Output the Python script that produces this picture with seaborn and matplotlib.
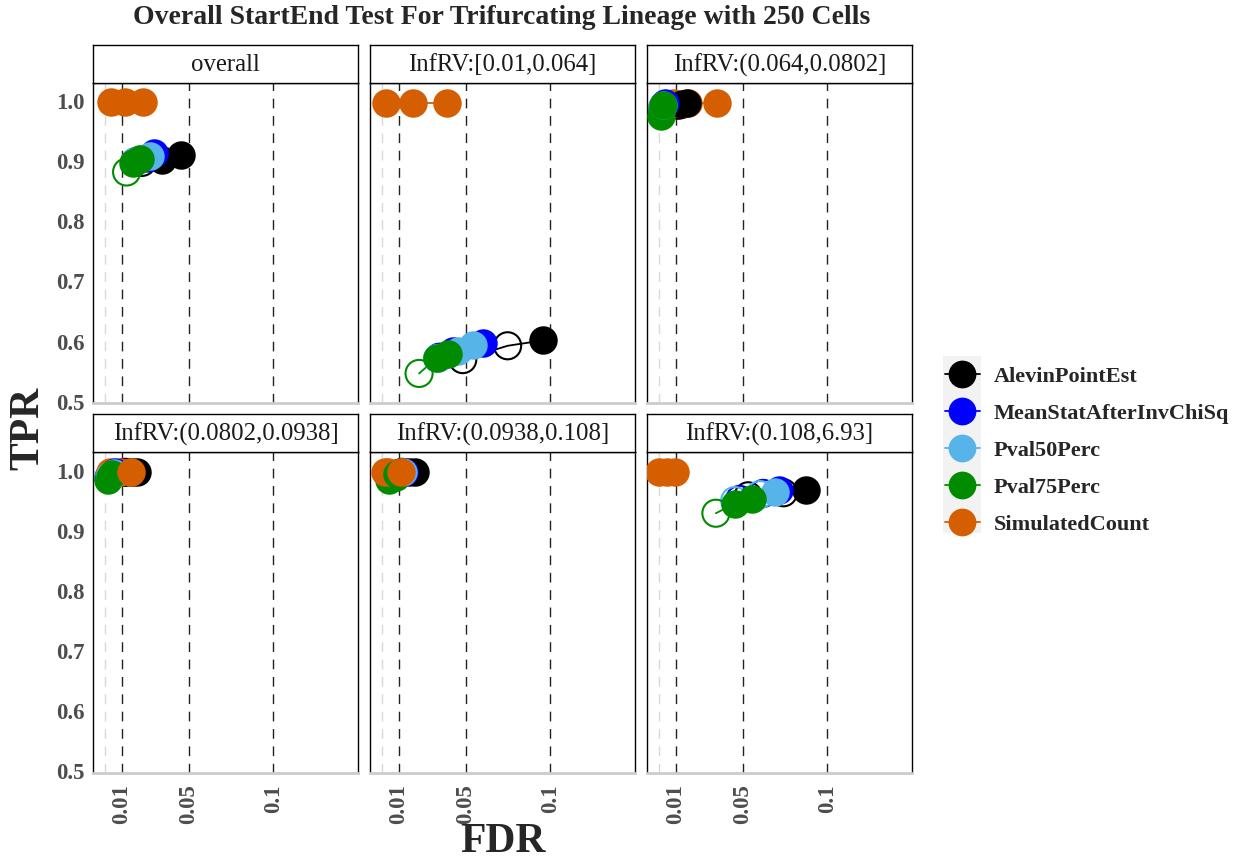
import numpy as np
import pandas as pd
import matplotlib
matplotlib.use("Agg")
import matplotlib.pyplot as plt
from matplotlib.lines import Line2D
from matplotlib.patches import Rectangle
import seaborn as sns

# ---- data -----------------------------------------------------------------
panels = ["overall", "InfRV:[0.01,0.064]", "InfRV:(0.064,0.0802]",
          "InfRV:(0.0802,0.0938]", "InfRV:(0.0938,0.108]", "InfRV:(0.108,6.93]"]
methods = ["AlevinPointEst", "MeanStatAfterInvChiSq", "Pval50Perc",
           "Pval75Perc", "SimulatedCount"]
method_colors = ["#000000", "#0000FF", "#56B4E9", "#008B00", "#D55E00"]
thresholds = [0.01, 0.05, 0.1]

# observed FDR / TPR at the three thresholds, one row per method
overall_fdr = [[0.022, 0.034, 0.045], [0.018, 0.025, 0.029], [0.0175, 0.021, 0.027],
               [0.0128, 0.0165, 0.021], [0.0033, 0.0116, 0.0227]]
overall_tpr = [[0.898, 0.902, 0.911], [0.899, 0.905, 0.913], [0.898, 0.903, 0.909],
               [0.882, 0.897, 0.904], [0.998, 0.998, 0.998]]

bin1_fdr = [[0.048, 0.0747, 0.096], [0.034, 0.042, 0.060], [0.033, 0.045, 0.054],
            [0.022, 0.0327, 0.039], [0.0024, 0.0185, 0.0389]]
bin1_tpr = [[0.570, 0.593, 0.602], [0.574, 0.585, 0.597], [0.572, 0.584, 0.594],
            [0.547, 0.573, 0.580], [0.997, 0.997, 0.997]]

bin2_fdr = [[0.0115, 0.0137, 0.0167], [0.002, 0.0028, 0.0035], [0.0015, 0.002, 0.0025],
            [0.001, 0.0018, 0.0025], [0.0085, 0.0173, 0.0345]]
bin2_tpr = [[0.993, 0.995, 0.996], [0.990, 0.995, 0.997], [0.985, 0.990, 0.993],
            [0.975, 0.987, 0.993], [0.997, 0.997, 0.997]]

bin3_fdr = [[0.012, 0.016, 0.019], [0.002, 0.004, 0.006], [0.002, 0.003, 0.005],
            [0.002, 0.003, 0.004], [0.003, 0.009, 0.0152]]
bin3_tpr = [[0.997, 0.998, 0.998], [0.990, 0.994, 0.997], [0.988, 0.993, 0.996],
            [0.984, 0.990, 0.995], [0.997, 0.997, 0.997]]

bin4_fdr = [[0.012, 0.016, 0.0196], [0.004, 0.009, 0.013], [0.004, 0.009, 0.0125],
            [0.004, 0.008, 0.009], [0.002, 0.0036, 0.0114]]
bin4_tpr = [[0.997, 0.998, 0.998], [0.992, 0.996, 0.997], [0.990, 0.995, 0.997],
            [0.984, 0.990, 0.995], [0.998, 0.998, 0.998]]

bin5_fdr = [[0.053, 0.074, 0.0875], [0.048, 0.062, 0.0714], [0.045, 0.060, 0.069],
            [0.0338, 0.045, 0.0553], [0.0, 0.005, 0.0093]]
bin5_tpr = [[0.958, 0.963, 0.968], [0.952, 0.962, 0.968], [0.950, 0.960, 0.965],
            [0.929, 0.945, 0.953], [0.998, 0.998, 0.998]]

fdr_tables = [overall_fdr, bin1_fdr, bin2_fdr, bin3_fdr, bin4_fdr, bin5_fdr]
tpr_tables = [overall_tpr, bin1_tpr, bin2_tpr, bin3_tpr, bin4_tpr, bin5_tpr]

rows = []
for p, ftab, ttab in zip(panels, fdr_tables, tpr_tables):
    for m, fr, tr in zip(methods, ftab, ttab):
        for th, f, t in zip(thresholds, fr, tr):
            rows.append(dict(panel=p, method=m, thr=th, FDR=f, TPR=t, satis=f <= th))
df = pd.DataFrame(rows)
palette = dict(zip(methods, method_colors))

# ---- style ----------------------------------------------------------------
sns.set_style("white")
plt.rcParams["font.family"] = ["Liberation Serif", "DejaVu Serif"]

W, H = 1239, 863
TICK_GREY = "#4D4D4D"
MS = 420
DASH = (0, (7, 5.5))


def draw_panel(data, **kws):
    ax = plt.gca()
    ax.axvline(0, color="#D9D9D9", ls=DASH, lw=1.0, zorder=0)
    for th in thresholds:
        ax.axvline(th, color="#222222", ls=DASH, lw=1.0, zorder=0)
    sns.lineplot(data=data, x="FDR", y="TPR", hue="method", hue_order=methods,
                 palette=palette, estimator=None, sort=False, legend=False,
                 lw=1.3, ax=ax, zorder=2)
    # points stacked threshold by threshold, methods in legend order
    for th in thresholds:
        for m in methods:
            pt = data[(data["method"] == m) & (data["thr"] == th)]
            if pt["satis"].all():
                sns.scatterplot(data=pt, x="FDR", y="TPR", color=palette[m],
                                edgecolor=palette[m], s=MS, linewidth=0,
                                legend=False, ax=ax, zorder=3)
            else:
                sns.scatterplot(data=pt, x="FDR", y="TPR", color=palette[m],
                                facecolor="none", edgecolor=palette[m],
                                s=MS - 40, linewidth=1.5, legend=False,
                                ax=ax, zorder=3)


g = sns.FacetGrid(df, col="panel", col_order=panels, col_wrap=3,
                  sharex=True, sharey=True, despine=False, height=3, aspect=0.85)
g.map_dataframe(draw_panel)
fig = g.figure
fig.set_size_inches(W / 100, H / 100)
fig.set_dpi(100)

g.set_titles("")
g.set_axis_labels("", "")
g.set(xlim=(-0.0072, 0.1505), ylim=(0.497, 1.03),
      xticks=[0, 0.01, 0.05, 0.1], yticks=[0.5, 0.6, 0.7, 0.8, 0.9, 1.0])

axes = g.axes.flatten()
for i, ax in enumerate(axes):
    for side in ["left", "right", "top"]:
        ax.spines[side].set_color("black")
        ax.spines[side].set_linewidth(1.0)
    ax.spines["bottom"].set_color("#CCCCCC")
    ax.spines["bottom"].set_linewidth(2.0)
    ax.tick_params(axis="y", length=4, color="#333333", width=1,
                   labelsize=16.5, labelcolor=TICK_GREY, pad=2)
    ax.set_yticklabels(["0.5", "0.6", "0.7", "0.8", "0.9", "1.0"],
                       fontweight="bold")
    if i < 3:
        ax.tick_params(axis="x", length=0, labelbottom=False)
    else:
        ax.tick_params(axis="x", length=5, color="#333333", width=1,
                       labelsize=16.5, labelcolor=TICK_GREY, pad=3)
        ax.set_xticklabels(["", "0.01", "0.05", "0.1"], rotation=90,
                           fontweight="bold")
        ax.xaxis.get_major_ticks()[0].tick1line.set_color("#CCCCCC")
    if i % 3 != 0:
        ax.tick_params(axis="y", labelleft=False)

fig.subplots_adjust(left=93 / W, right=912 / W, top=1 - 83 / H,
                    bottom=1 - 773 / H, wspace=12 / 265.3, hspace=49 / 320.5)

# facet strips
for ax, name in zip(axes, panels):
    pos = ax.get_position()
    strip = fig.add_axes([pos.x0, pos.y1, pos.width, 38 / H])
    strip.set_facecolor("white")
    strip.set_xticks([])
    strip.set_yticks([])
    for sp in strip.spines.values():
        sp.set_color("black")
        sp.set_linewidth(1.0)
    strip.text(0.5, 0.47, name, ha="center", va="center", fontsize=17.8,
               color="#1A1A1A", transform=strip.transAxes)

fig.text(502 / W, 1 - 18 / H,
         "Overall StartEnd Test For Trifurcating Lineage with 250 Cells",
         ha="center", va="center", fontsize=20, fontweight="bold")
fig.text(28 / W, 1 - 428 / H, "TPR", rotation=90, ha="center", va="center",
         fontsize=30, fontweight="bold")
fig.text(503 / W, 1 - 842 / H, "FDR", ha="center", va="center",
         fontsize=30, fontweight="bold")

# legend
fig.patches.append(Rectangle((943 / W, 1 - 533 / H), 38 / W, 177 / H,
                             transform=fig.transFigure, facecolor="#F2F2F2",
                             edgecolor="none", zorder=0))
handles = [Line2D([0], [0], color=c, marker="o", markersize=20, lw=1.3,
                  markeredgewidth=0) for c in method_colors]
leg = fig.legend(handles, methods, loc="upper left",
                 bbox_to_anchor=(944.5 / W, 1 - 366 / H), frameon=False,
                 borderpad=0, borderaxespad=0, handlelength=1.6,
                 handletextpad=0.6, labelspacing=0.74,
                 prop=dict(family="Liberation Serif", weight="bold", size=16))

fig.savefig("out.png", dpi=100)
